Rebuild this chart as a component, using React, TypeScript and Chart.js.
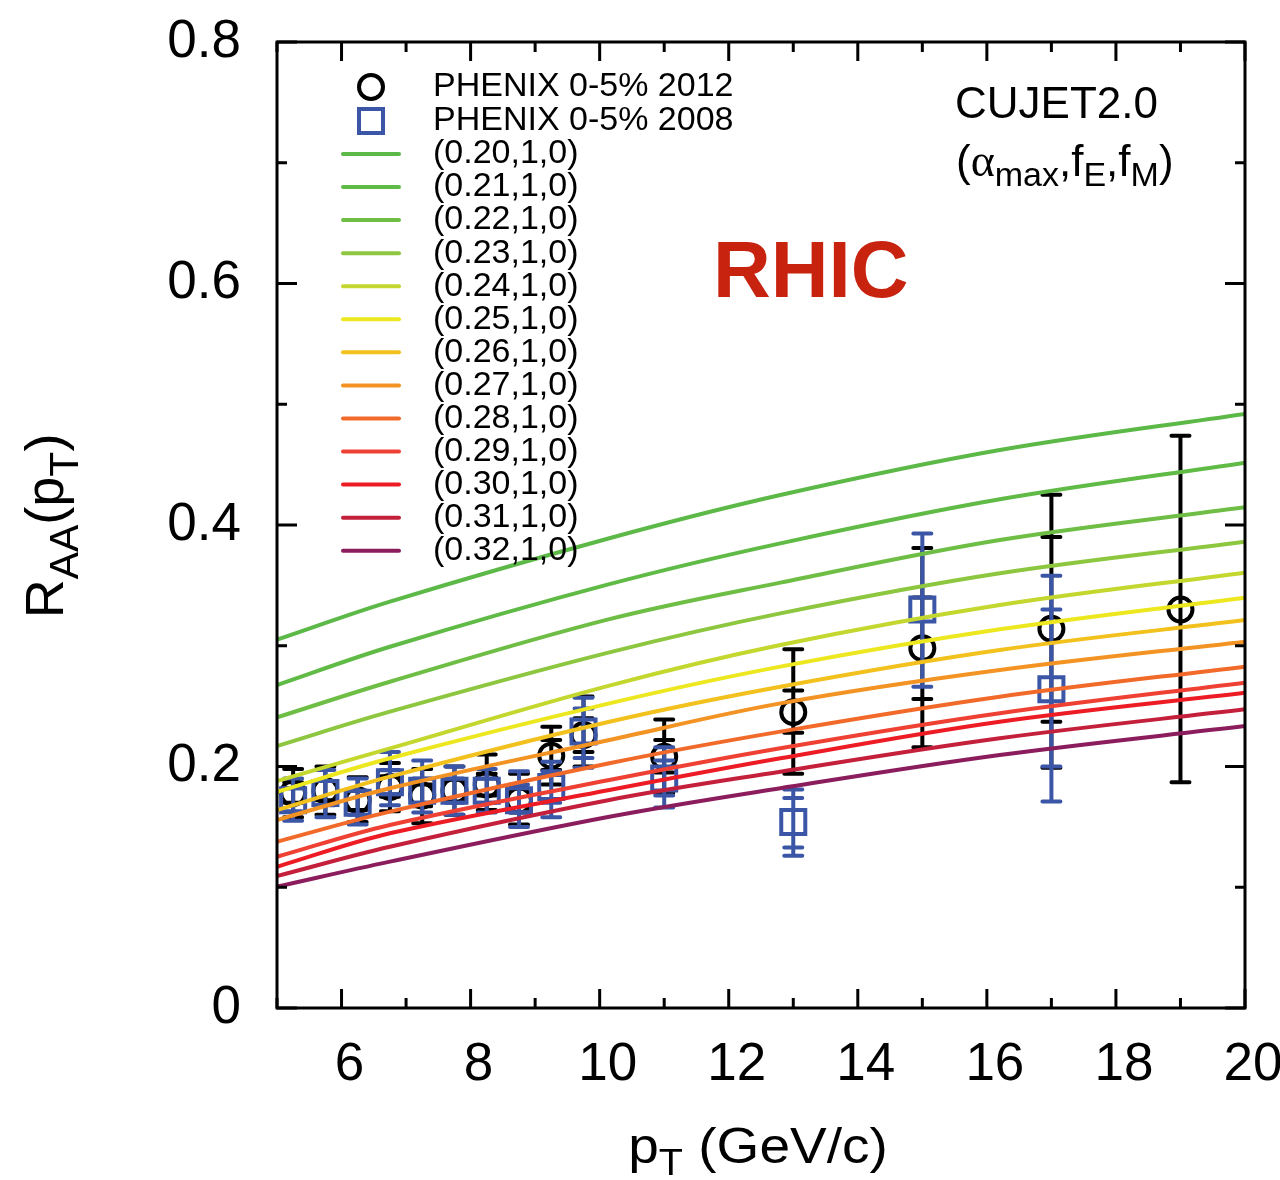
import React, { useEffect, useRef } from 'react';
import { Chart, registerables } from 'chart.js';

Chart.register(...registerables);

const FONT = '"Liberation Sans", Arial, Helvetica, sans-serif';

// ---------- axes ----------
const X_MIN = 5;
const X_MAX = 20;
const Y_MIN = 0;
const Y_MAX = 0.8;
const xMajorTicks = [6, 8, 10, 12, 14, 16, 18, 20];
const xMinorTicks = [5, 7, 9, 11, 13, 15, 17, 19];
const yMajorTicks = [0, 0.2, 0.4, 0.6, 0.8];
const yMinorTicks = [0.1, 0.3, 0.5, 0.7];

// ---------- PHENIX 0-5% 2012 (circles) ----------
const phenix2012Pt = [5.25, 5.75, 6.25, 6.75, 7.25, 7.75, 8.25, 8.75, 9.25, 9.75, 11, 13, 15, 17, 19];
const phenix2012Raa = [0.178, 0.18, 0.172, 0.183, 0.176, 0.18, 0.185, 0.172, 0.209, 0.226, 0.208, 0.245, 0.298, 0.314, 0.33];
const phenix2012InnerLo = [0.17, 0.172, 0.164, 0.175, 0.167, 0.171, 0.176, 0.162, 0.197, 0.212, 0.195, 0.228, 0.256, 0.237, 0.187];
const phenix2012InnerHi = [0.187, 0.188, 0.18, 0.192, 0.185, 0.189, 0.194, 0.182, 0.222, 0.24, 0.222, 0.263, 0.34, 0.39, 0.474];
const phenix2012OuterLo = [0.158, 0.16, 0.154, 0.163, 0.153, 0.16, 0.164, 0.152, 0.185, 0.2, 0.178, 0.194, 0.216, 0.199, 0.187];
const phenix2012OuterHi = [0.198, 0.2, 0.191, 0.203, 0.198, 0.2, 0.21, 0.194, 0.233, 0.258, 0.239, 0.297, 0.381, 0.425, 0.474];

// ---------- PHENIX 0-5% 2008 (squares) ----------
const phenix2008Pt = [5.25, 5.75, 6.25, 6.75, 7.25, 7.75, 8.25, 8.75, 9.25, 9.75, 11, 13, 15, 17];
const phenix2008Raa = [0.172, 0.178, 0.17, 0.187, 0.18, 0.18, 0.18, 0.172, 0.183, 0.229, 0.19, 0.154, 0.33, 0.264];
const phenix2008InnerLo = [0.163, 0.168, 0.16, 0.177, 0.17, 0.17, 0.17, 0.162, 0.17, 0.207, 0.176, 0.133, 0.266, 0.2];
const phenix2008InnerHi = [0.182, 0.188, 0.18, 0.197, 0.19, 0.19, 0.19, 0.185, 0.196, 0.248, 0.205, 0.174, 0.393, 0.33];
const phenix2008OuterLo = [0.155, 0.158, 0.152, 0.168, 0.162, 0.16, 0.162, 0.15, 0.158, 0.199, 0.166, 0.126, 0.266, 0.171];
const phenix2008OuterHi = [0.19, 0.197, 0.19, 0.212, 0.205, 0.2, 0.198, 0.196, 0.204, 0.257, 0.216, 0.181, 0.393, 0.358];

// ---------- CUJET2.0 curves ----------
const curvePt = [5, 6.75, 10.15, 12.8, 16.2, 20];
const cujet020 = [0.305, 0.3365, 0.389, 0.4248, 0.4621, 0.492];
const cujet021 = [0.2675, 0.2992, 0.351, 0.3848, 0.4213, 0.4516];
const cujet022 = [0.2407, 0.2702, 0.322, 0.3523, 0.3876, 0.4147];
const cujet023 = [0.217, 0.2454, 0.2945, 0.3268, 0.36, 0.3862];
const cujet024 = [0.188, 0.215, 0.267, 0.3006, 0.3337, 0.3605];
const cujet025 = [0.179, 0.2068, 0.2523, 0.2827, 0.3136, 0.3398];
const cujet026 = [0.164, 0.1916, 0.2371, 0.2661, 0.2965, 0.3213];
const cujet027 = [0.1557, 0.182, 0.222, 0.2523, 0.2799, 0.3034];
const cujet028 = [0.1377, 0.1626, 0.2027, 0.2289, 0.2578, 0.2827];
const cujet029 = [0.1253, 0.1516, 0.1888, 0.2151, 0.2441, 0.2694];
const cujet030 = [0.117, 0.1447, 0.1805, 0.2068, 0.2371, 0.2611];
const cujet031 = [0.1093, 0.1336, 0.1723, 0.1957, 0.2234, 0.2474];
const cujet032 = [0.1005, 0.1212, 0.1584, 0.182, 0.2095, 0.2335];

const curveSeries = [cujet020, cujet021, cujet022, cujet023, cujet024, cujet025, cujet026, cujet027, cujet028, cujet029, cujet030, cujet031, cujet032];
const curveLabels = ['(0.20,1,0)', '(0.21,1,0)', '(0.22,1,0)', '(0.23,1,0)', '(0.24,1,0)', '(0.25,1,0)', '(0.26,1,0)', '(0.27,1,0)', '(0.28,1,0)', '(0.29,1,0)', '(0.30,1,0)', '(0.31,1,0)', '(0.32,1,0)'];
const curveColors = ['#5cb947', '#60bb46', '#6ebe45', '#8dc63f', '#c3d72f', '#ece71e', '#f2c11d', '#f39323', '#f26a2a', '#ef4034', '#ed1c24', '#c4203b', '#8c1d5d'];

const label2012 = 'PHENIX 0-5% 2012';
const label2008 = 'PHENIX 0-5% 2008';
const BLUE = '#3b56a6';
const RHIC_RED = '#c8230e';

type Seg = { text: string; size: number; dy?: number; weight?: string; family?: string };

function segFont(s: Seg) {
  return `${s.weight || 'normal'} ${s.size}px ${s.family || FONT}`;
}
function measureRich(ctx: CanvasRenderingContext2D, segs: Seg[]) {
  let w = 0;
  for (const s of segs) {
    ctx.font = segFont(s);
    w += ctx.measureText(s.text).width;
  }
  return w;
}
function drawRich(ctx: CanvasRenderingContext2D, segs: Seg[], x: number, y: number) {
  let cx = x;
  for (const s of segs) {
    ctx.font = segFont(s);
    ctx.fillText(s.text, cx, y + (s.dy || 0));
    cx += ctx.measureText(s.text).width;
  }
}

const errorBarPlugin = {
  id: 'errorBars',
  beforeDatasetDraw(chart: any, args: any) {
    const ds = chart.data.datasets[args.index];
    const err = ds.errorBars;
    if (!err) return;
    const { ctx } = chart;
    const xs = chart.scales.x;
    const ys = chart.scales.y;
    ctx.save();
    ctx.strokeStyle = ds.pointBorderColor;
    ctx.lineWidth = 4;
    ctx.lineCap = 'butt';
    ctx.beginPath();
    ds.data.forEach((pt: any, i: number) => {
      const px = xs.getPixelForValue(pt.x);
      ctx.moveTo(px, ys.getPixelForValue(err.outerLo[i]));
      ctx.lineTo(px, ys.getPixelForValue(err.outerHi[i]));
    });
    ctx.stroke();
    ctx.lineCap = 'round';
    ctx.beginPath();
    ds.data.forEach((pt: any, i: number) => {
      const px = xs.getPixelForValue(pt.x);
      for (const v of [err.outerLo[i], err.outerHi[i], err.innerLo[i], err.innerHi[i]]) {
        const py = ys.getPixelForValue(v);
        ctx.moveTo(px - 9, py);
        ctx.lineTo(px + 9, py);
      }
    });
    ctx.stroke();
    ctx.restore();
  },
};

const framePlugin = {
  id: 'frameTicks',
  afterDatasetsDraw(chart: any) {
    const { ctx, chartArea: a } = chart;
    const xs = chart.scales.x;
    const ys = chart.scales.y;
    ctx.save();
    ctx.strokeStyle = '#000';
    ctx.lineWidth = 3;
    ctx.beginPath();
    const xt = (vals: number[], len: number) => {
      for (const v of vals) {
        const p = xs.getPixelForValue(v);
        ctx.moveTo(p, a.bottom);
        ctx.lineTo(p, a.bottom - len);
        ctx.moveTo(p, a.top);
        ctx.lineTo(p, a.top + len);
      }
    };
    const yt = (vals: number[], len: number) => {
      for (const v of vals) {
        const p = ys.getPixelForValue(v);
        ctx.moveTo(a.left, p);
        ctx.lineTo(a.left + len, p);
        ctx.moveTo(a.right, p);
        ctx.lineTo(a.right - len, p);
      }
    };
    xt(xMajorTicks, 19);
    xt(xMinorTicks, 10);
    yt(yMajorTicks, 20);
    yt(yMinorTicks, 10);
    ctx.stroke();
    ctx.strokeRect(a.left, a.top, a.right - a.left, a.bottom - a.top);
    ctx.restore();
  },
};

const annotationPlugin = {
  id: 'annotations',
  afterDraw(chart: any) {
    const { ctx } = chart;
    ctx.save();
    ctx.fillStyle = '#000';
    ctx.textBaseline = 'middle';
    ctx.textAlign = 'left';

    // legend: markers
    ctx.lineWidth = 4;
    ctx.strokeStyle = '#000';
    ctx.beginPath();
    ctx.arc(371, 87, 12, 0, Math.PI * 2);
    ctx.stroke();
    ctx.strokeStyle = BLUE;
    ctx.strokeRect(359, 109, 24, 24);
    ctx.font = `34px ${FONT}`;
    ctx.fillText(label2012, 433, 87);
    ctx.fillText(label2008, 433, 121);
    const ds = chart.data.datasets;
    ctx.lineCap = 'round';
    for (let i = 0; i < curveLabels.length; i++) {
      const y = 154 + i * 33.06;
      ctx.strokeStyle = ds[i].borderColor;
      ctx.beginPath();
      ctx.moveTo(343, y);
      ctx.lineTo(399, y);
      ctx.stroke();
      ctx.fillText(curveLabels[i], 433, y);
    }

    // CUJET label
    ctx.textBaseline = 'alphabetic';
    ctx.font = `44px ${FONT}`;
    ctx.fillText('CUJET2.0', 955, 118);
    drawRich(ctx, [
      { text: '(', size: 44 },
      { text: 'α', size: 46, family: '"Liberation Serif", "DejaVu Serif", serif' },
      { text: 'max', size: 34, dy: 10 },
      { text: ',f', size: 44 },
      { text: 'E', size: 34, dy: 10 },
      { text: ',f', size: 44 },
      { text: 'M', size: 34, dy: 10 },
      { text: ')', size: 44 },
    ], 956, 176);

    // RHIC
    ctx.fillStyle = RHIC_RED;
    ctx.font = `bold 80px ${FONT}`;
    ctx.fillText('RHIC', 713, 297);
    ctx.fillStyle = '#000';

    // y axis title
    const ySegs: Seg[] = [
      { text: 'R', size: 54 },
      { text: 'AA', size: 41, dy: 15 },
      { text: '(p', size: 54 },
      { text: 'T', size: 41, dy: 15 },
      { text: ')', size: 54 },
    ];
    const yw = measureRich(ctx, ySegs);
    ctx.save();
    ctx.translate(63, 526);
    ctx.rotate(-Math.PI / 2);
    drawRich(ctx, ySegs, -yw / 2, 0);
    ctx.restore();

    // x axis title
    const xSegs: Seg[] = [
      { text: 'p', size: 50 },
      { text: 'T', size: 36, dy: 12 },
      { text: ' (GeV/c)', size: 50 },
    ];
    const xw = measureRich(ctx, xSegs);
    ctx.save();
    ctx.translate(758, 1163);
    ctx.scale(1.1, 1);
    drawRich(ctx, xSegs, -xw / 2, 0);
    ctx.restore();

    ctx.restore();
  },
};

export default function App() {
  const canvasRef = useRef<HTMLCanvasElement | null>(null);

  useEffect(() => {
    if (!canvasRef.current) return;
    const curveDatasets = curveSeries.map((vals, i) => ({
      label: curveLabels[i],
      data: curvePt.map((x, j) => ({ x, y: vals[j] })),
      showLine: true,
      borderColor: curveColors[i],
      backgroundColor: curveColors[i],
      borderWidth: 4,
      pointRadius: 0,
      pointHoverRadius: 0,
      tension: 0.35,
      fill: false,
      order: 0,
    }));
    const blueDataset = {
      label: label2008,
      data: phenix2008Pt.map((x, i) => ({ x, y: phenix2008Raa[i] })),
      showLine: false,
      pointStyle: 'rect',
      pointRadius: 17,
      pointBorderWidth: 4,
      pointBorderColor: BLUE,
      pointBackgroundColor: 'rgba(0,0,0,0)',
      order: 1,
      errorBars: { innerLo: phenix2008InnerLo, innerHi: phenix2008InnerHi, outerLo: phenix2008OuterLo, outerHi: phenix2008OuterHi },
    };
    const blackDataset = {
      label: label2012,
      data: phenix2012Pt.map((x, i) => ({ x, y: phenix2012Raa[i] })),
      showLine: false,
      pointStyle: 'circle',
      pointRadius: 12,
      pointBorderWidth: 4,
      pointBorderColor: '#000',
      pointBackgroundColor: 'rgba(0,0,0,0)',
      order: 2,
      errorBars: { innerLo: phenix2012InnerLo, innerHi: phenix2012InnerHi, outerLo: phenix2012OuterLo, outerHi: phenix2012OuterHi },
    };

    const chart = new Chart(canvasRef.current, {
      type: 'scatter',
      data: { datasets: [...curveDatasets, blueDataset, blackDataset] as any },
      options: {
        responsive: false,
        animation: false,
        events: [],
        layout: { padding: { top: 42, right: 35, left: 0, bottom: 0 } },
        plugins: { legend: { display: false }, tooltip: { enabled: false } },
        scales: {
          x: {
            type: 'linear',
            min: X_MIN,
            max: X_MAX,
            grid: { display: false, drawTicks: false },
            border: { display: false },
            afterBuildTicks: (s: any) => {
              s.ticks = xMajorTicks.map((v) => ({ value: v }));
            },
            afterFit: (s: any) => {
              s.height = 172;
              s.paddingLeft = 0;
              s.paddingRight = 0;
            },
            ticks: {
              font: { family: FONT, size: 53 },
              color: '#000',
              padding: 26,
              labelOffset: 8,
              maxRotation: 0,
              autoSkip: false,
              callback: (v: any) => String(v),
            },
          },
          y: {
            type: 'linear',
            min: Y_MIN,
            max: Y_MAX,
            grid: { display: false, drawTicks: false },
            border: { display: false },
            afterBuildTicks: (s: any) => {
              s.ticks = yMajorTicks.map((v) => ({ value: v }));
            },
            afterFit: (s: any) => {
              s.width = 277;
              s.paddingTop = 0;
              s.paddingBottom = 0;
            },
            ticks: {
              font: { family: FONT, size: 53 },
              color: '#000',
              padding: 36,
              autoSkip: false,
              callback: (v: any) => (Number(v) === 0 ? '0' : Number(v).toFixed(1)),
            },
          },
        },
      } as any,
      plugins: [errorBarPlugin, framePlugin, annotationPlugin],
    });
    return () => chart.destroy();
  }, []);

  return (
    <div style={{ position: 'absolute', left: 0, top: 0, width: 1280, height: 1180, background: '#fff' }}>
      <canvas ref={canvasRef} width={1280} height={1180} style={{ display: 'block', width: 1280, height: 1180 }} />
    </div>
  );
}
